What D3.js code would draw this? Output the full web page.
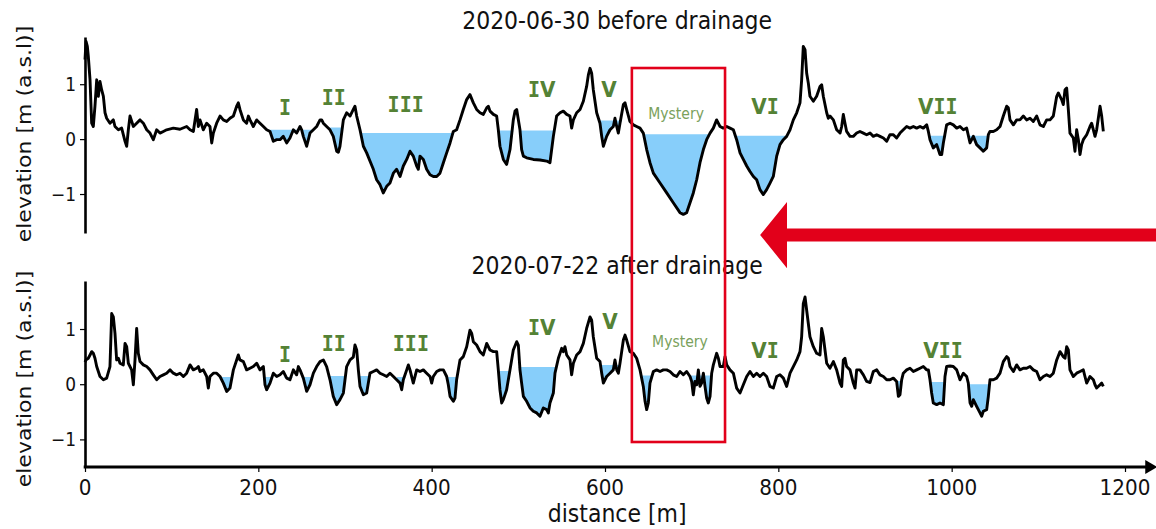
<!DOCTYPE html>
<html>
<head>
<meta charset="utf-8">
<script src="https://cdn.jsdelivr.net/npm/d3@7"></script>
<style>
  body { margin: 0; background: #fff; }
  svg { display: block; }
</style>
</head>
<body>
<svg id="chart" width="1156" height="529"></svg>
<script>
// Elevation profile along the transect, [distance m, elevation m a.s.l.]
const profileBefore = [
  [0,1.45],[1.2,1.78],[2.7,1.69],[3.8,1.51],[5.8,1.08],[7.7,0.29],[9.6,0.23],[11.5,0.60],[13.5,1.08],[15.4,0.78],[17.3,1.05],[19.2,0.90],[21.2,0.78],[23.1,0.48],[25,0.38],[28.8,0.29],[32.7,0.35],[34.6,0.23],[38.5,0.17],[42.3,0.20],[46.2,-0.04],[48.1,-0.13],[50,0.17],[51.9,0.42],[55.8,0.23],[59.6,0.29],[63.5,0.35],[67.3,0.29],[71.2,0.17],[75,0.11],[78.8,-0.01],[82.7,0.17],[86.5,0.11],[90.4,0.14],[94.2,0.17],[101.9,0.20],[109.6,0.18],[117.3,0.23],[121.2,0.17],[125,0.14],[128.8,0.54],[130.8,0.23],[132.7,0.35],[136.5,0.17],[140.4,0.29],[144.2,0.23],[146.2,-0.07],[148.1,0.11],[151.9,0.29],[155.8,0.42],[159.6,0.35],[163.5,0.32],[167.3,0.38],[171.2,0.42],[175,0.60],[176.9,0.66],[178.8,0.54],[182.7,0.35],[186.5,0.29],[188.5,0.42],[190.4,0.35],[194.2,0.23],[198.1,0.35],[201.9,0.29],[205.8,0.23],[209.6,0.17],[213.5,0.14],[215.4,0.05],[217.3,-0.04],[221.2,-0.01],[225,-0.01],[228.8,0.05],[232.7,-0.07],[236.5,0.02],[240.4,0.17],[244.2,0.11],[248.1,0.23],[250,0.17],[251.9,0.05],[255.8,-0.13],[259.6,0.11],[263.5,0.17],[267.3,0.23],[271.2,0.35],[273.1,0.35],[275,0.29],[278.8,0.23],[282.7,0.17],[286.5,0.05],[290.4,-0.22],[292.3,-0.24],[294.2,-0.13],[298.1,0.35],[301.9,0.48],[305.8,0.42],[309.6,0.54],[311.5,0.60],[313.5,0.42],[317.3,0.17],[321.2,-0.13],[325,-0.25],[328.8,-0.40],[332.7,-0.55],[336.5,-0.74],
  [340.4,-0.83],[344.2,-0.98],[348.1,-0.86],[351.9,-0.80],[355.8,-0.62],[359.6,-0.55],[363.5,-0.68],[367.3,-0.49],[371.2,-0.37],[375,-0.22],[378.8,-0.31],[382.7,-0.49],[384.6,-0.55],[386.5,-0.31],[390.4,-0.37],[394.2,-0.55],[398.1,-0.65],[401.9,-0.68],[405.8,-0.68],[409.6,-0.62],[413.5,-0.43],[417.3,-0.25],[421.2,-0.07],[425,0.14],[428.8,0.17],[432.7,0.35],[436.5,0.54],[440.4,0.72],[444.2,0.81],[448.1,0.66],[451.9,0.54],[455.8,0.48],[459.6,0.45],[463.5,0.57],[465.4,0.60],[467.3,0.51],[471.2,0.45],[475,0.42],[476.9,0.17],[478.8,-0.13],[482.7,-0.37],[486.5,-0.46],[490.4,-0.19],[494.2,0.35],[496.2,0.51],[498.1,0.54],[501.9,0.17],[503.8,-0.19],[505.8,-0.31],[509.6,-0.34],[517.3,-0.37],[525,-0.38],[532.7,-0.40],[536.5,-0.43],[540.4,0.05],[544.2,0.42],[548.1,0.48],[551.9,0.51],[555.8,0.45],[559.6,0.42],[561.5,0.20],[563.5,0.35],[567.3,0.48],[571.2,0.54],[575,0.69],[578.8,0.96],[580.8,1.17],[582.7,1.29],[584.6,1.20],[586.5,0.90],[590.4,0.48],[594.2,0.29],[596.2,0.05],[598.1,-0.13],[601.9,0.05],[605.8,0.17],[609.6,0.23],[611.5,0.38],[613.5,0.23],[615.4,0.11],[617.3,0.29],[621.2,0.63],[623.1,0.66],[625,0.54],[628.8,0.32],[632.7,0.26],[636.5,0.23],[640.4,0.20],[644.2,0.11],[648.1,-0.19],[651.9,-0.43],[655.8,-0.62],[663.5,-0.80],[671.2,-0.98],[678.8,-1.16],[686.5,-1.34],[690.4,-1.37],[694.2,-1.34],[698.1,-1.16],[701.9,-0.98],[705.8,-0.74],[709.6,-0.43],[713.5,-0.19],[717.3,-0.01],[721.2,0.11],[725,0.20],[728.8,0.35],[732.7,0.23],[736.5,0.20],[740.4,0.23],[744.2,0.20],[748.1,0.17],[751.9,-0.01],[755.8,-0.25],[759.6,-0.37],[763.5,-0.49],[767.3,-0.59],[771.2,-0.68],[775,-0.74],
  [778.8,-0.92],[782.7,-1.01],[786.5,-0.92],[790.4,-0.80],[794.2,-0.68],[798.1,-0.31],[801.9,-0.10],[805.8,-0.01],[809.6,0.05],[813.5,0.17],[817.3,0.35],[821.2,0.48],[825,0.66],[826.9,1.08],[828.8,1.69],[830.8,1.63],[832.7,1.20],[834.6,1.02],[836.5,0.78],[840.4,0.69],[844.2,0.78],[848.1,0.96],[850,0.99],[851.9,0.78],[855.8,0.48],[857.7,0.38],[859.6,0.42],[863.5,0.35],[867.3,0.17],[871.2,0.11],[873.1,0.23],[875,0.45],[876.9,0.29],[878.8,0.14],[882.7,0.05],[886.5,0.05],[890.4,0.11],[894.2,0.14],[898.1,0.11],[901.9,0.08],[905.8,0.11],[909.6,0.05],[913.5,0.08],[917.3,0.05],[921.2,0.02],[925,-0.04],[928.8,0.08],[932.7,0.08],[936.5,0.02],[940.4,0.11],[944.2,0.17],[948.1,0.23],[951.9,0.20],[955.8,0.23],[959.6,0.20],[963.5,0.23],[967.3,0.20],[971.2,0.26],[973.1,0.14],[975,-0.01],[978.8,-0.16],[982.7,-0.10],[986.5,-0.28],[988.5,-0.28],[990.4,-0.07],[994.2,0.26],[998.1,0.29],[1001.9,0.26],[1005.8,0.20],[1009.6,0.23],[1013.5,0.17],[1017.3,0.20],[1021.2,-0.07],[1025,0.05],[1028.8,-0.10],[1032.7,-0.16],[1036.5,-0.22],[1040.4,-0.16],[1042.3,0.08],[1044.2,0.14],[1048.1,0.14],[1051.9,0.17],[1055.8,0.23],[1059.6,0.42],[1063.5,0.60],[1065.4,0.57],[1067.3,0.35],[1071.2,0.26],[1075,0.35],[1078.8,0.35],[1082.7,0.42],[1086.5,0.35],[1090.4,0.38],[1094.2,0.32],[1098.1,0.42],[1101.9,0.26],[1105.8,0.23],[1109.6,0.35],[1113.5,0.35],[1117.3,0.42],[1121.2,0.78],[1123.1,0.84],[1125,0.78],[1126.9,0.72],[1128.8,0.63],[1130.8,0.90],[1132.7,0.93],[1134.6,0.54],[1136.5,0.11],[1140.4,0.02],[1142.3,-0.22],[1144.2,0.17],[1146.2,-0.01],[1148.1,-0.28],[1150,-0.10],[1151.9,-0.01],[1155.8,0.08],[1159.6,0.23],[1161.5,0.29],[1163.5,0.17],[1165.4,0.05],[1167.3,0.17],[1171.2,0.60],[1173.1,0.42],[1175,0.14]
];

const profileAfter = [
  [0,0.40],[1.2,0.44],[3.8,0.47],[5.8,0.53],[7.7,0.59],[9.6,0.56],[11.5,0.47],[13.5,0.32],[17.3,0.14],[21.2,0.08],[25,0.11],[28.8,0.32],[30.8,1.28],[32.7,1.22],[34.6,0.92],[36.5,0.44],[38.5,0.47],[40.4,0.38],[44.2,0.35],[46.2,0.74],[48.1,0.68],[50,0.38],[53.8,0.26],[55.8,-0.01],[57.7,0.44],[59.6,1.01],[61.5,0.56],[63.5,0.41],[67.3,0.35],[71.2,0.32],[75,0.26],[78.8,0.17],[82.7,0.08],[86.5,0.14],[90.4,0.17],[94.2,0.20],[98.1,0.26],[101.9,0.20],[105.8,0.17],[109.6,0.20],[113.5,0.14],[117.3,0.20],[121.2,0.35],[125,0.26],[128.8,0.29],[130.8,0.32],[132.7,0.23],[136.5,0.26],[140.4,0.14],[142.3,-0.07],[144.2,0.14],[148.1,0.20],[151.9,0.20],[155.8,0.14],[159.6,0.02],[163.5,-0.13],[167.3,-0.07],[171.2,0.26],[175,0.44],[176.9,0.53],[178.8,0.44],[182.7,0.41],[186.5,0.26],[190.4,0.29],[194.2,0.32],[198.1,0.38],[201.9,0.26],[205.8,0.32],[207.7,-0.01],[209.6,-0.10],[213.5,0.02],[217.3,0.20],[221.2,0.14],[225,0.17],[228.8,0.23],[232.7,0.11],[236.5,0.08],[240.4,0.26],[244.2,0.17],[246.2,0.32],[248.1,0.26],[251.9,0.11],[255.8,-0.13],[259.6,-0.01],[263.5,0.20],[267.3,0.32],[271.2,0.41],[275,0.44],[278.8,0.32],[282.7,0.08],[286.5,-0.22],[290.4,-0.37],[294.2,-0.28],[298.1,-0.16],[301.9,0.32],[305.8,0.44],[309.6,0.49],[311.5,0.71],[313.5,0.62],[315.4,0.26],[317.3,-0.04],[321.2,-0.19],[325,-0.16],[328.8,0.20],[332.7,0.23],[336.5,0.26],
  [340.4,0.20],[344.2,0.17],[348.1,0.14],[351.9,0.20],[355.8,0.14],[359.6,0.08],[363.5,0.02],[365.4,-0.10],[367.3,0.08],[371.2,0.26],[373.1,0.35],[375,0.26],[378.8,0.02],[380.8,0.14],[382.7,0.26],[386.5,0.23],[390.4,0.26],[394.2,0.20],[398.1,0.14],[400,0.02],[401.9,0.14],[405.8,0.23],[409.6,0.26],[413.5,0.26],[417.3,0.14],[419.2,-0.01],[421.2,-0.22],[425,-0.31],[426.9,-0.25],[428.8,0.08],[432.7,0.44],[436.5,0.50],[440.4,0.68],[444.2,0.98],[446.2,0.92],[448.1,0.77],[451.9,0.71],[455.8,0.59],[459.6,0.53],[463.5,0.74],[467.3,0.62],[471.2,0.59],[475,0.59],[476.9,0.26],[478.8,-0.10],[480.8,-0.34],[482.7,-0.28],[486.5,-0.10],[490.4,0.26],[494.2,0.62],[498.1,0.77],[500,0.71],[501.9,0.26],[503.8,0.02],[505.8,-0.22],[509.6,-0.31],[513.5,-0.43],[517.3,-0.49],[521.2,-0.52],[525,-0.58],[528.8,-0.43],[532.7,-0.46],[534.6,-0.52],[536.5,-0.34],[540.4,-0.16],[542.3,0.20],[546.2,0.47],[550,0.65],[551.9,0.59],[553.8,0.68],[555.8,0.53],[559.6,0.44],[561.5,0.17],[563.5,0.38],[567.3,0.53],[571.2,0.59],[575,0.74],[578.8,1.01],[582.7,1.22],[584.6,1.16],[586.5,0.86],[590.4,0.47],[594.2,0.41],[596.2,0.20],[598.1,0.02],[601.9,0.14],[605.8,0.20],[609.6,0.26],[611.5,0.44],[613.5,0.26],[615.4,0.20],[617.3,0.38],[621.2,0.80],[623.1,0.89],[625,0.80],[628.8,0.59],[632.7,0.56],[636.5,0.47],[640.4,0.26],[644.2,-0.04],[646.2,-0.31],[648.1,-0.46],[650,-0.34],[651.9,0.02],[655.8,0.23],[659.6,0.26],[663.5,0.23],[667.3,0.26],[671.2,0.26],[675,0.23],[678.8,0.17],[682.7,0.14],[686.5,0.23],[690.4,0.17],[694.2,0.23],[698.1,0.14],[700,0.05],[701.9,-0.19],[703.8,0.05],[705.8,-0.01],[707.7,0.26],[709.6,-0.04],[711.5,0.02],[713.5,0.20],[715.4,-0.04],[717.3,-0.25],[719.2,-0.34],[721.2,-0.22],[723.1,0.20],[725,0.35],[728.8,0.56],[730.8,0.47],[732.7,0.32],[736.5,0.32],[738.5,0.50],[740.4,0.35],[744.2,0.26],[748.1,0.20],[751.9,-0.07],[755.8,-0.16],[759.6,-0.01],[763.5,0.14],[767.3,0.23],[771.2,0.14],[775,0.20],
  [778.8,0.14],[782.7,0.20],[786.5,0.14],[790.4,-0.04],[794.2,-0.07],[798.1,0.14],[801.9,0.17],[805.8,0.11],[809.6,-0.04],[813.5,0.20],[817.3,0.32],[821.2,0.44],[825,0.59],[826.9,0.86],[828.8,1.46],[830.8,1.58],[832.7,1.34],[836.5,0.86],[840.4,0.68],[844.2,0.56],[848.1,0.53],[850,1.01],[851.9,0.86],[855.8,0.38],[859.6,0.29],[863.5,0.41],[867.3,0.26],[871.2,0.02],[873.1,-0.04],[875,0.44],[876.9,0.47],[878.8,0.32],[882.7,0.26],[886.5,0.02],[888.5,-0.07],[890.4,0.26],[894.2,0.26],[898.1,0.17],[901.9,0.05],[905.8,0.03],[909.6,0.23],[913.5,0.26],[917.3,0.17],[921.2,0.14],[925,0.08],[928.8,0.08],[932.7,0.11],[936.5,0.05],[938.5,-0.22],[940.4,-0.19],[942.3,0.08],[944.2,0.20],[948.1,0.26],[951.9,0.29],[955.8,0.23],[959.6,0.26],[963.5,0.29],[967.3,0.32],[971.2,0.26],[973.1,0.26],[975,0.08],[976.9,-0.16],[978.8,-0.34],[982.7,-0.37],[986.5,-0.34],[990.4,-0.37],[992.3,0.14],[994.2,0.32],[998.1,0.33],[1001.9,0.32],[1005.8,0.26],[1009.6,0.08],[1013.5,0.20],[1017.3,0.14],[1019.2,0.02],[1021.2,-0.34],[1023.1,-0.40],[1025,-0.28],[1028.8,-0.40],[1032.7,-0.52],[1034.6,-0.58],[1036.5,-0.49],[1040.4,-0.46],[1042.3,-0.22],[1044.2,0.08],[1048.1,0.08],[1051.9,0.11],[1055.8,0.20],[1059.6,0.41],[1063.5,0.50],[1065.4,0.47],[1067.3,0.32],[1071.2,0.23],[1075,0.35],[1078.8,0.26],[1082.7,0.29],[1086.5,0.29],[1090.4,0.32],[1094.2,0.26],[1098.1,0.23],[1101.9,0.08],[1105.8,0.14],[1109.6,0.17],[1113.5,0.14],[1117.3,0.20],[1121.2,0.44],[1125,0.59],[1128.8,0.50],[1130.8,0.47],[1132.7,0.68],[1134.6,0.62],[1136.5,0.26],[1140.4,0.14],[1144.2,0.20],[1148.1,0.23],[1151.9,0.26],[1153.8,0.14],[1155.8,0.02],[1159.6,0.14],[1163.5,0.08],[1165.4,-0.01],[1167.3,-0.07],[1171.2,-0.01],[1173.1,0.02],[1175,-0.04]
];

// Standing water: [from m, to m, water level m]
const pondsBefore = [
  [209,263,0.17],[280,300,0.21],[317,428,0.11],[476,542,0.155],[594,620,0.34],
  [640,726,0.09],[748,812,0.06],[972,994,0.06],[1018,1046,0.06]
];
const pondsAfter = [
  [155,170,0.13],[205,240,0.13],[250,262,0.13],[280,300,0.15],[314,328,0.15],
  [360,370,0.13],[415,430,0.13],[476,492,0.24],[500,543,0.31],[594,619,0.35],
  [640,654,0.16],[697,724,0.16],[896,908,0.07],[936,943,0.06],[973,993,0.04],[1018,1046,0.0]
];

// Depression names and where they are written: [distance m, elevation m]
const zoneNames = ["I","II","III","IV","V","Mystery","VI","VII"];
const zoneAtBefore = [[230.8,0.59],[287,0.77],[370,0.645],[527,0.92],[604.6,0.92],[682,0.48],[784.6,0.61],[984,0.61]];
const zoneAtAfter  = [[230.8,0.55],[287,0.75],[376,0.76],[527,1.05],[605.8,1.16],[686.5,0.77],[784.6,0.62],[990,0.62]];

const titles = ["2020-06-30 before drainage", "2020-07-22 after drainage"];
const xTicks = [0, 200, 400, 600, 800, 1000, 1200];
const yTicks = [-1, 0, 1];

// Highlighted reach (distance m) and the elevations bounding it in each panel
const highlightFrom = 631, highlightTo = 738.5;
const highlightTopElev = 1.295, highlightBottomElev = -1.047;

// ---------------------------------------------------------------
const svg = d3.select("#chart");
const FONT = "'DejaVu Sans', sans-serif";
const STRETCH = 1.1;          // text is slightly tall in this figure
const GREEN = "#548235", LIGHT_GREEN = "#7aa15c", WATER = "#87cefa", RED = "#e2001a";

const x = d3.scaleLinear().domain([0, 1200]).range([85, 1125]);
const xAxisEnd = 1228;

const panels = [
  { profile: profileBefore, ponds: pondsBefore, zoneAt: zoneAtBefore, title: titles[0],
    y: d3.scaleLinear().domain([-1.71, 1.86]).range([233, 37]), titleY: 21, labelY: 134 },
  { profile: profileAfter, ponds: pondsAfter, zoneAt: zoneAtAfter, title: titles[1],
    y: d3.scaleLinear().domain([-1.5, 1.87]).range([467, 281]), titleY: 266, labelY: 379 }
];

function elevAt(profile, d) {
  const i = d3.bisector(p => p[0]).right(profile, d);
  if (i <= 0) return profile[0][1];
  if (i >= profile.length) return profile[profile.length - 1][1];
  const a = profile[i - 1], b = profile[i];
  return a[1] + (b[1] - a[1]) * (d - a[0]) / (b[0] - a[0]);
}

function pondPoints(profile, from, to) {
  const pts = [[from, elevAt(profile, from)]];
  profile.forEach(p => { if (p[0] > from && p[0] < to) pts.push(p); });
  pts.push([to, elevAt(profile, to)]);
  return pts;
}

function stretchedText(g, tx, ty, str, size, opts = {}) {
  const t = g.append("text")
    .attr("transform", `translate(${tx},${ty})` + (opts.rotate ? ` rotate(${opts.rotate}) scale(${STRETCH},1)` : ` scale(1,${STRETCH})`))
    .attr("text-anchor", opts.anchor || "middle")
    .attr("dominant-baseline", "central")
    .attr("font-family", opts.family || FONT)
    .attr("font-size", size)
    .attr("fill", opts.fill || "#111");
  if (opts.weight) t.attr("font-weight", opts.weight);
  t.text(str);
  return t;
}

panels.forEach((p, k) => {
  const g = svg.append("g");
  const y = p.y;

  // water bodies
  const area = d3.area().x(d => x(d[0])).y1(d => y(Math.min(d[1], d.level))).y0(d => y(d.level));
  p.ponds.forEach(([from, to, level]) => {
    const pts = pondPoints(p.profile, from, to).map(d => { const c = d.slice(); c.level = level; return c; });
    g.append("path").attr("d", area(pts)).attr("fill", WATER);
  });

  // terrain profile
  g.append("path")
    .attr("d", d3.line().x(d => x(d[0])).y(d => y(d[1]))(p.profile))
    .attr("fill", "none").attr("stroke", "#000").attr("stroke-width", 2.9)
    .attr("stroke-linejoin", "round");

  // y axis
  const ya = g.append("g").attr("transform", `translate(${x(0)},0)`)
    .call(d3.axisLeft(y).tickValues(yTicks).tickSize(5).tickSizeOuter(0).tickPadding(5));
  ya.select(".domain").attr("stroke-width", 2.6);
  ya.selectAll(".tick line").attr("stroke-width", 1.2);
  ya.selectAll(".tick text").remove();
  yTicks.forEach(v => stretchedText(g, x(0) - 9, y(v), d3.format("")(v), 17, { anchor: "end" }));

  // axis title and panel title
  stretchedText(g, 24, p.labelY, "elevation [m (a.s.l)]", 20, { rotate: -90 });
  stretchedText(g, (x(0) + x(xAxisEnd)) / 2, p.titleY, p.title, 22);

  // depression names
  zoneNames.forEach((name, i) => {
    const [d, e] = p.zoneAt[i];
    if (name === "Mystery") {
      stretchedText(g, x(d), y(e), name, 14, { fill: LIGHT_GREEN });
    } else {
      const t = stretchedText(g, x(d), y(e), "", 20, { fill: GREEN, weight: "bold" });
      [...name].forEach(ch => t.append("tspan")
        .attr("font-family", ch === "I" ? "'DejaVu Sans Mono', monospace" : FONT)
        .text(ch));
    }
  });
});

// shared distance axis under the lower panel
const yLow = panels[1].y;
const xa = svg.append("g").attr("transform", `translate(0,${yLow.range()[0]})`)
  .call(d3.axisBottom(x).tickValues(xTicks).tickSize(5).tickSizeOuter(0));
xa.select(".domain").remove();
xa.selectAll(".tick line").attr("stroke-width", 1.2);
xa.selectAll(".tick text").remove();
xTicks.forEach(v => stretchedText(svg, x(v), yLow.range()[0] + 20, String(v), 20));

svg.append("defs").append("marker")
  .attr("id", "axisArrow").attr("markerUnits", "userSpaceOnUse")
  .attr("markerWidth", 14).attr("markerHeight", 14)
  .attr("refX", 4).attr("refY", 7).attr("orient", "auto")
  .append("path").attr("d", "M0,0 L12,7 L0,14 Z").attr("fill", "#000");

svg.append("line")
  .attr("x1", x(0) - 1.3).attr("x2", x(xAxisEnd))
  .attr("y1", yLow.range()[0]).attr("y2", yLow.range()[0])
  .attr("stroke", "#000").attr("stroke-width", 3)
  .attr("marker-end", "url(#axisArrow)");

stretchedText(svg, (x(0) + x(xAxisEnd)) / 2, 514, "distance [m]", 22);

// red highlight box over both panels
const yTop = panels[0].y;
svg.append("rect")
  .attr("x", x(highlightFrom)).attr("y", yTop(highlightTopElev))
  .attr("width", x(highlightTo) - x(highlightFrom))
  .attr("height", yLow(highlightBottomElev) - yTop(highlightTopElev))
  .attr("fill", "none").attr("stroke", RED).attr("stroke-width", 2.6);

// red arrow pointing at the box
const arrowPts = [[779,-1.747],[810,-1.146],[810,-1.63],[1240,-1.63],[1240,-1.865],[810,-1.865],[810,-2.35]];
svg.append("path")
  .attr("d", d3.line().x(d => x(d[0])).y(d => yTop(d[1]))(arrowPts) + "Z")
  .attr("fill", RED);
</script>
</body>
</html>
